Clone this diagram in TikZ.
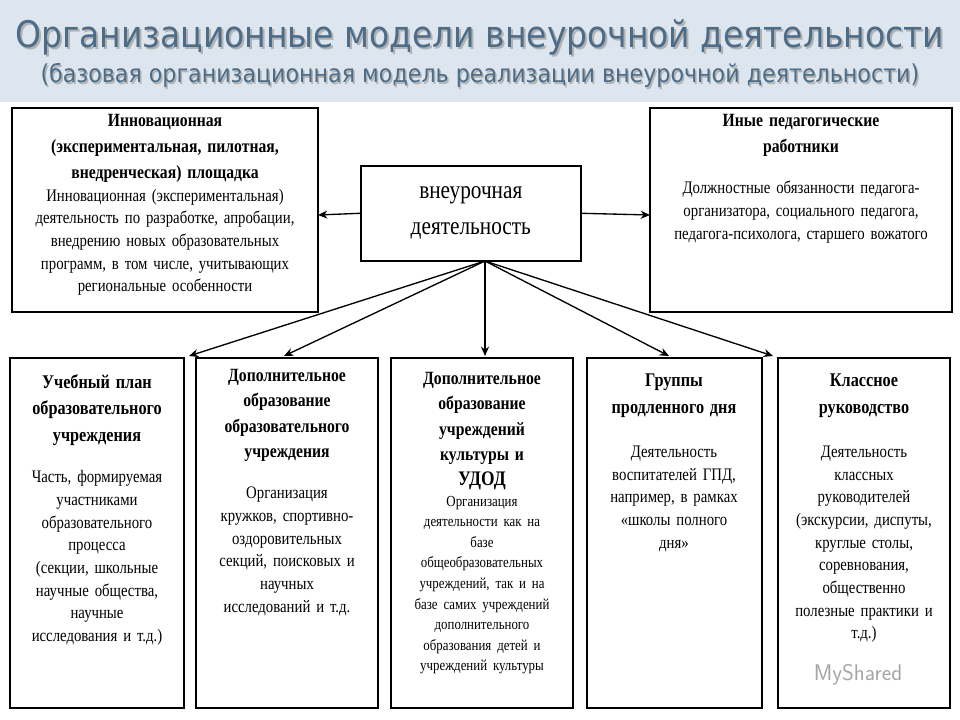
\documentclass[tikz,border=0pt]{standalone}
\usepackage{fontspec}
\setmainfont[FakeStretch=0.84]{Liberation Serif}
\newfontfamily\titlefont{DejaVu Sans Condensed}
\usetikzlibrary{arrows.meta}
\definecolor{band}{HTML}{DDE6EE}
\definecolor{ttl}{HTML}{4C6C88}
\begin{document}
\begin{tikzpicture}[x=0.75pt,y=-0.75pt,
  box/.style={align=center,inner sep=0pt,anchor=north,font=\fontsize{13.2}{17}\selectfont},
  arr/.style={-{Stealth[length=7pt,width=6pt]},line width=1pt}]
\useasboundingbox (0,0) rectangle (960,720);
\fill[white] (0,0) rectangle (960,720);
\fill[band] (0,0) rectangle (960,102);
\node[text=gray!60,font=\titlefont\fontsize{27.5}{30}\selectfont] at (482,39) {Организационные модели внеурочной деятельности};
\node[text=ttl,font=\titlefont\fontsize{27.5}{30}\selectfont] (t1) at (480,37) {Организационные модели внеурочной деятельности};
\node[text=gray!60,font=\titlefont\fontsize{18.5}{22}\selectfont] at (481.5,77) {(базовая организационная модель реализации внеурочной деятельности)};
\node[text=ttl,font=\titlefont\fontsize{18.5}{22}\selectfont] (t2) at (480,75.5) {(базовая организационная модель реализации внеурочной деятельности)};

\draw[line width=1.2pt] (12,108) rectangle (318,312);
\node[box,text width=300] (L) at (165,114) {\bfseries\fontsize{14}{19.5}\selectfont Инновационная\\(экспериментальная, пилотная,\\внедренческая) площадка\\\mdseries\fontsize{13.2}{17}\selectfont Инновационная (экспериментальная)\\деятельность по разработке, апробации,\\внедрению новых образовательных\\программ, в том числе, учитывающих\\региональные особенности};
\coordinate (Lr) at (318,215);

\draw[line width=1.2pt] (650,108) rectangle (952,312);
\node[box,text width=295] (R) at (801,114) {{\bfseries\fontsize{14}{19.5}\selectfont Иные педагогические\\работники\par}\vspace{14pt}Должностные обязанности педагога-\\организатора, социального педагога,\\педагога-психолога, старшего вожатого};
\coordinate (Rl) at (650,215);

\node[draw,line width=1.2pt,align=center,anchor=north west,minimum width=220*0.75pt,minimum height=95*0.75pt,font=\fontsize{19}{27}\selectfont] (C) at (360,165) {внеурочная\\деятельность};
\coordinate (Cb) at (485,261);

\foreach \x/\w in {10/174,196/182,391/182,587/175,778/172}
  \draw[line width=1.2pt] (\x,358) rectangle ++(\w,350);

\node[box,text width=170] (a) at (97,374) {{\bfseries\fontsize{14.5}{20}\selectfont Учебный план\\образовательного\\учреждения\par}\vspace{14pt}Часть, формируемая\\участниками\\образовательного\\процесса\\(секции, школьные\\научные общества,\\научные\\исследования и т.д.)};
\node[box,text width=178] (b) at (287,369) {{\bfseries\fontsize{14}{19}\selectfont Дополнительное\\образование\\образовательного\\учреждения\par}\vspace{14pt}Организация\\кружков, спортивно-\\оздоровительных\\секций, поисковых и\\научных\\исследований и т.д.};
\node[box,text width=178] (c) at (482,372) {{\bfseries\fontsize{14}{19}\selectfont Дополнительное\\образование\\учреждений\\культуры и\\\fontsize{15.5}{19}\selectfont УДОД\par}{\fontsize{11.5}{15.4}\selectfont Организация\\деятельности как на\\базе\\общеобразовательных\\учреждений, так и на\\базе самих учреждений\\дополнительного\\образования детей и\\учреждений культуры\par}};
\node[box,text width=170] (d) at (674,374) {{\bfseries\fontsize{14.5}{20}\selectfont Группы\\продленного дня\par}\vspace{16pt}Деятельность\\воспитателей ГПД,\\например, в рамках\\«школы полного\\дня»};
\node[box,text width=168] (e) at (864,374) {{\bfseries\fontsize{14.5}{20}\selectfont Классное\\руководство\par}\vspace{16pt}Деятельность\\классных\\руководителей\\(экскурсии, диспуты,\\круглые столы,\\соревнования,\\общественно\\полезные практики и\\т.д.)};

\node[font=\sffamily\fontsize{17}{20}\selectfont,text=gray!70] (wm) at (858,675) {MyShared};

\draw[arr] (C.west) -- (Lr);
\draw[arr] (C.east) -- (Rl);
\draw[arr] (Cb) -- (189,356);
\draw[arr] (Cb) -- (284,356);
\draw[arr] (Cb) -- (485,356);
\draw[arr] (Cb) -- (669,356);
\draw[arr] (Cb) -- (773,356);
\end{tikzpicture}
\end{document}
